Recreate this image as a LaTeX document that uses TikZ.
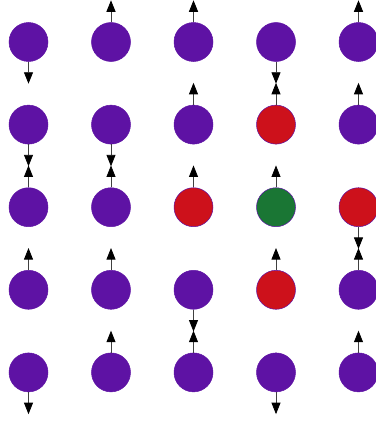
\documentclass[tikz,border=0pt]{standalone}
\usetikzlibrary{arrows.meta, calc}
\definecolor{gdPurple}{HTML}{5E12A4}
\definecolor{gdRed}{HTML}{CD111B}
\definecolor{gdGreen}{HTML}{1A7634}
\tikzset{
  site/.style={circle, draw=gdPurple, line width=0.5pt,
    minimum size=39pt, inner sep=0pt},
  spinarrow/.style={-{Triangle[length=11.5pt, width=9pt, color=black]},
    line width=0.8pt, black!75}
}
\begin{document}
\begin{tikzpicture}[x=1pt, y=-1pt]
  \useasboundingbox (0,0) rectangle (375,423);
  % lattice, row by row: fill / arrow side
  \foreach \col/\dir [count=\i from 0] in {
      gdPurple/south, gdPurple/north, gdPurple/north, gdPurple/south, gdPurple/north,
      gdPurple/south, gdPurple/south, gdPurple/north, gdRed/north,    gdPurple/north,
      gdPurple/north, gdPurple/north, gdRed/north,    gdGreen/north,  gdRed/south,
      gdPurple/north, gdPurple/north, gdPurple/south, gdRed/north,    gdPurple/north,
      gdPurple/south, gdPurple/north, gdPurple/north, gdPurple/south, gdPurple/north} {
    \pgfmathtruncatemacro\r{\i/5}
    \pgfmathtruncatemacro\c{mod(\i,5)}
    \node[site, fill=\col] (s-\i) at (28.5+82.5*\c, 42+82.6*\r) {};
    \coordinate (t-\i) at ($(s-\i.\dir)!-22pt!(s-\i.center)$);
    \draw[spinarrow] (s-\i) -- (t-\i);
  }
\end{tikzpicture}
\end{document}
